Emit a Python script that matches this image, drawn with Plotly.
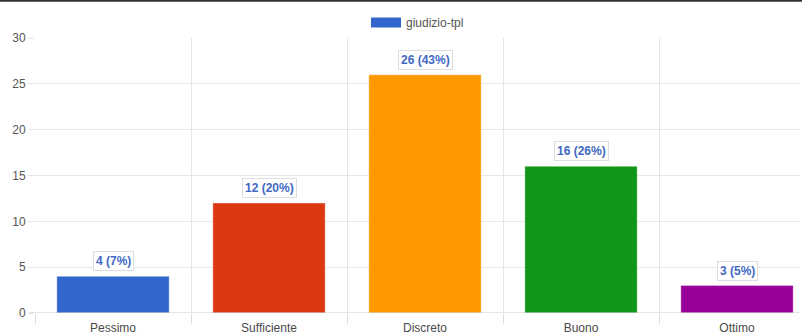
import plotly.graph_objects as go

categories = ["Pessimo", "Sufficiente", "Discreto", "Buono", "Ottimo"]
values = [4, 12, 26, 16, 3]
percents = ["7%", "20%", "43%", "26%", "5%"]
colors = ["#3366cc", "#dc3912", "#ff9900", "#109618", "#990099"]
series_name = "giudizio-tpl"
y_ticks = [0, 5, 10, 15, 20, 25, 30]

FONT = "Liberation Sans, Arial, sans-serif"
PH = 275.0  # plot height in px
PW = 765.0  # plot width in px

fig = go.Figure()
fig.add_trace(go.Bar(
    x=categories, y=values,
    marker=dict(color=colors, line=dict(color="rgba(255,255,255,0.35)", width=1)),
    showlegend=False, hoverinfo="x+y",
))
# legend entry
fig.add_trace(go.Scatter(
    x=[None], y=[None], mode="lines", name=series_name,
    line=dict(color="#3366cc", width=11), showlegend=True,
))

for c, v, p in zip(categories, values, percents):
    fig.add_annotation(
        x=c, y=v, text=f"<b>{v} ({p})</b>", showarrow=False,
        yanchor="bottom", yshift=5,
        font=dict(family=FONT, size=12, color="#4169c4"),
        bgcolor="white", bordercolor="#dddddd", borderwidth=1, borderpad=2,
    )

# top dark border line
fig.add_shape(type="line", xref="paper", yref="paper",
              x0=-35/PW, x1=1+2/PW, y0=(313-0.8)/PH, y1=(313-0.8)/PH,
              line=dict(color="#333333", width=2))

fig.update_layout(
    width=802, height=336,
    margin=dict(l=35, r=2, t=38, b=23, autoexpand=False),
    paper_bgcolor="white", plot_bgcolor="white",
    bargap=0.28,
    font=dict(family=FONT, size=12, color="#555555"),
    legend=dict(orientation="h", x=0.5, xanchor="center",
                y=(313-22.5)/PH, yanchor="middle",
                font=dict(size=12, color="#555555"),
                bgcolor="rgba(0,0,0,0)"),
    xaxis=dict(
        type="category", range=[-0.5, -0.5 + PW/156],
        tickson="boundaries", ticks="outside", ticklen=10, tickcolor="#dddddd",
        showgrid=True, gridcolor="#e6e6e6", gridwidth=1,
        showline=False, zeroline=False, automargin=False,
        ticklabelstandoff=6,
        tickfont=dict(size=12, color="#4a4a4a"),
        fixedrange=True,
    ),
    yaxis=dict(
        range=[0, 30], tickvals=y_ticks,
        showgrid=True, gridcolor="#e6e6e6", gridwidth=1,
        ticks="outside", ticklen=6, tickcolor="#e6e6e6",
        zeroline=False, showline=False, automargin=False,
        tickfont=dict(size=12, color="#555555"),
        fixedrange=True,
    ),
)
# baseline at 0
fig.add_shape(type="line", xref="paper", yref="y", x0=-6/PW, x1=1, y0=0, y1=0,
              line=dict(color="#cccccc", width=1), layer="above")

fig.write_html(
    "out.html",
    config={"displayModeBar": False},
    post_script="document.body.style.margin='0';document.body.style.padding='0';",
)
